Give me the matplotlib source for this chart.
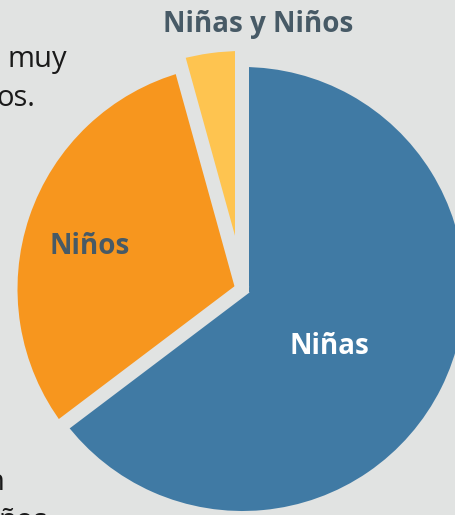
import numpy as np
import matplotlib.pyplot as plt

# slice data (share of the whole, in %)
labels = ['Niñas', 'Niños', 'Niñas y Niños']
shares = [64.7, 31.0, 4.3]
colors = ['#407AA4', '#F7961E', '#FEC450']
radii = [222, 225, 238]          # the slices do not share one radius

bg = '#E1E3E2'
label_col = '#475A66'

W, H = 456, 515
fig = plt.figure(figsize=(W / 100, H / 100), dpi=100)
fig.patch.set_facecolor(bg)
ax = fig.add_axes([0, 0, 1, 1])
ax.set_facecolor(bg)

cx, cy = 242.5, H - 289

wedges, _ = ax.pie(shares, colors=colors, startangle=90, counterclock=False,
                   center=(cx, cy), radius=radii[0],
                   wedgeprops=dict(linewidth=0))
for w, r in zip(wedges, radii):
    w.set_radius(r)

# gaps between the slices: background coloured strips along each edge
gap = 14  # px
lw = gap * 72 / 100
edges = 90 - 360 * np.cumsum([0] + shares[:-1]) / 100
big = shares[0] * 3.6                       # the blue slice is > 180 deg
back = (gap / 2) / np.tan(np.radians(360 - big) / 2)
for i, a in enumerate(edges):
    d = np.array([np.cos(np.radians(a)), np.sin(np.radians(a))])
    # the two edges of the big slice run a little past the centre
    s = -back if i in (0, 1) else 0
    p0 = np.array([cx, cy]) + s * d
    p1 = np.array([cx, cy]) + 260 * d
    ax.plot([p0[0], p1[0]], [p0[1], p1[1]], color=bg, lw=lw,
            solid_capstyle='butt', zorder=3)

ax.set_xlim(0, W)
ax.set_ylim(0, H)
ax.set_aspect('equal')
ax.axis('off')

font = ['Open Sans', 'DejaVu Sans']
ax.text(258, H - 24, labels[2], ha='center', va='center', fontsize=20,
        fontweight='bold', color=label_col, family=font, zorder=4)
ax.text(90, H - 246, labels[1], ha='center', va='center', fontsize=20,
        fontweight='bold', color=label_col, family=font, zorder=4)
ax.text(329, H - 347, labels[0], ha='center', va='center', fontsize=20,
        fontweight='bold', color='white', family=font, zorder=4)

# bits of the body text that the crop cut off
body = '#1A1A1A'
ax.text(8, H - 67, 'muy', ha='left', va='baseline', fontsize=21, color=body, family=font)
ax.text(-4, H - 106, 'os.', ha='left', va='baseline', fontsize=21, color=body, family=font)
ax.text(-14, H - 490, 'n', ha='left', va='baseline', fontsize=21, color=body, family=font)
ax.text(-2, H - 529, 'ños', ha='left', va='baseline', fontsize=21, color=body, family=font)

fig.savefig('out.png', dpi=100, facecolor=bg)
